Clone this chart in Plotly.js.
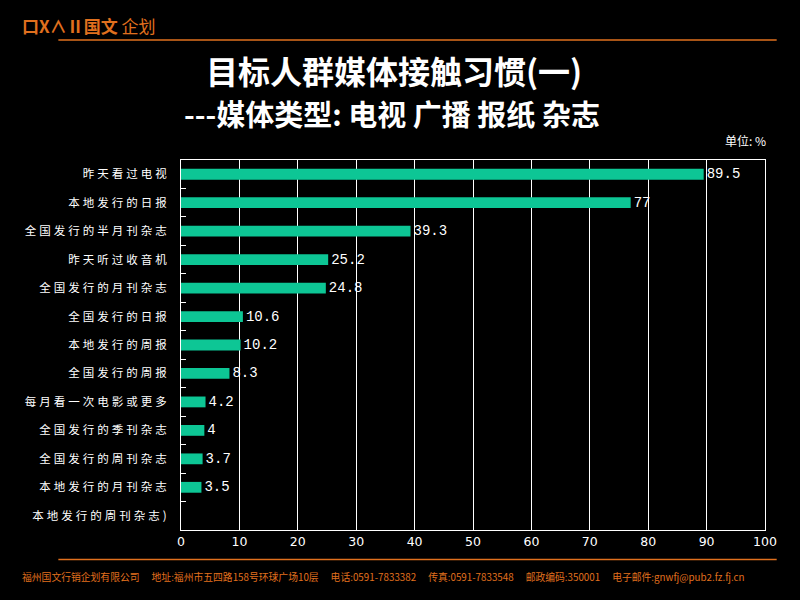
<!DOCTYPE html>
<html><head><meta charset="utf-8">
<script src="https://cdn.plot.ly/plotly-3.0.1.min.js"></script>
<style>
html,body{margin:0;padding:0;background:#000;}
#chart .ytick text{letter-spacing:3px;}
#chart .textpoint text{letter-spacing:2px;}
</style>
</head><body>
<div id="chart" style="width:800px;height:600px;"></div>
<script>
const categories = ["昨天看过电视","本地发行的日报","全国发行的半月刊杂志","昨天听过收音机","全国发行的月刊杂志","全国发行的日报","本地发行的周报","全国发行的周报","每月看一次电影或更多","全国发行的季刊杂志","全国发行的周刊杂志","本地发行的月刊杂志","本地发行的周刊杂志)"];
const values = [89.5,77,39.3,25.2,24.8,10.6,10.2,8.3,4.2,4,3.7,3.5,null];
const labels = values.map(v => v === null ? "" : String(v));
const xTicks = [0,10,20,30,40,50,60,70,80,90,100];

const orange = '#E0701E';
const cjk = '"Noto Sans CJK SC", sans-serif';

const trace = {
  type:'bar', orientation:'h', y:categories, x:values,
  marker:{color:'#0DC695'},
  text:labels, textposition:'outside', cliponaxis:false, constraintext:'none',
  textfont:{color:'#FFFFFF', size:14, family:'"Liberation Mono", monospace'},
  hoverinfo:'none'
};

const layout = {
  width:800, height:600,
  paper_bgcolor:'#000', plot_bgcolor:'#000',
  margin:{l:181, r:35, t:160, b:70},
  showlegend:false,
  bargap:0.62,
  font:{family:cjk, color:'#fff'},
  xaxis:{range:[0,100], tickvals:xTicks, showgrid:true, gridcolor:'#FFFFFF', gridwidth:1,
    zeroline:false, showline:true, linecolor:'#FFFFFF', linewidth:1, mirror:true,
    ticks:'', tickfont:{size:12.5, color:'#fff', family:'"DejaVu Sans", sans-serif'}, fixedrange:true},
  yaxis:{type:'category', autorange:'reversed', showgrid:false, zeroline:false,
    showline:true, linecolor:'#FFFFFF', linewidth:1, mirror:true,
    ticks:'inside', ticklen:5, tickcolor:'#FFFFFF', tickson:'boundaries',
    tickfont:{size:11.5, color:'#fff', family:cjk}, ticklabelstandoff:8},
  shapes:[
    {type:'line', xref:'paper', yref:'paper', x0:-0.21, x1:1.02, y0:1.324, y1:1.324, line:{color:orange, width:1.5}},
    {type:'line', xref:'paper', yref:'paper', x0:-0.21, x1:1.02, y0:-0.08, y1:-0.08, line:{color:orange, width:1.5}}
  ],
  annotations:[
    {xref:'paper', yref:'paper', xanchor:'center', yanchor:'middle', x:(394-181)/584, y:(530-70)/370,
      text:'<b>目标人群媒体接触习惯(一)</b>', showarrow:false, font:{size:32, color:'#fff', family:cjk}},
    {xref:'paper', yref:'paper', xanchor:'center', yanchor:'middle', x:(392-181)/584, y:(530-113)/370,
      text:'<b>---媒体类型: 电视 广播 报纸 杂志</b>', showarrow:false, font:{size:29, color:'#fff', family:cjk}},
    {xref:'paper', yref:'paper', xanchor:'right', yanchor:'middle', x:(768-181)/584, y:(530-140)/370,
      text:'单位: %', showarrow:false, font:{size:12, color:'#fff', family:cjk}},
    {xref:'paper', yref:'paper', xanchor:'left', yanchor:'middle', x:(20-181)/584, y:(530-26)/370,
      text:'<b>口X∧Ⅱ国文</b> 企划', showarrow:false, font:{size:17, color:orange, family:cjk}},
    {xref:'paper', yref:'paper', xanchor:'left', yanchor:'middle', x:(20-181)/584, y:(530-577)/370,
      text:'福州国文行销企划有限公司　 地址:福州市五四路158号环球广场10层　 电话:0591-7833382　 传真:0591-7833548　 邮政编码:350001　 电子邮件:gnwfj@pub2.fz.fj.cn',
      showarrow:false, font:{size:9.8, color:orange, family:cjk}}
  ]
};
Plotly.newPlot('chart',[trace],layout,{displayModeBar:false, staticPlot:true});
</script>
</body></html>
